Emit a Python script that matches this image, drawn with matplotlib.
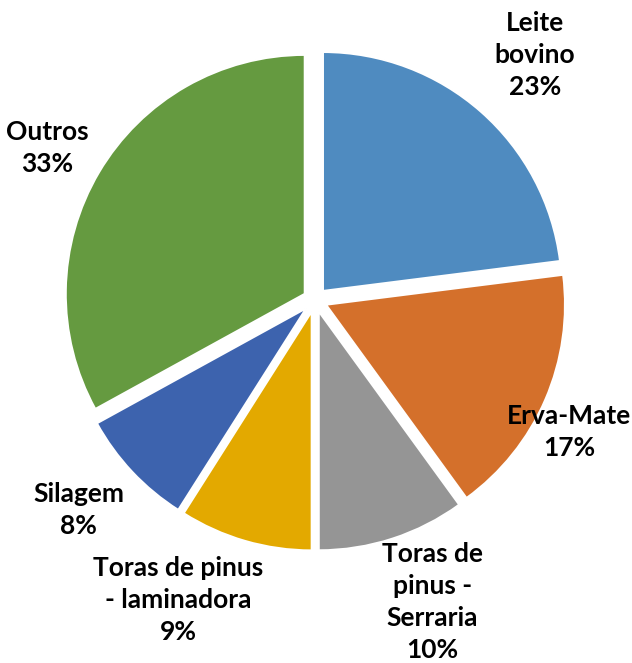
import matplotlib
matplotlib.use("Agg")
import matplotlib.pyplot as plt

# slice data, clockwise from 12 o'clock
labels = ["Leite\nbovino", "Erva-Mate", "Toras de\npinus -\nSerraria",
          "Toras de pinus\n- laminadora", "Silagem", "Outros"]
shares = [23, 17, 10, 9, 8, 33]
colors = ["#4F8BC0", "#D4702B", "#959595", "#E3A900", "#3D63AE", "#659A40"]

# where each label sits (axes data units, pie radius = 1)
label_pos = [(0.92, 1.025), (1.062, -0.552), (0.49, -1.265),
             (-0.573, -1.255), (-0.99, -0.879), (-1.121, 0.636)]

fig = plt.figure(figsize=(6.32, 6.63), dpi=100)
ax = fig.add_axes([0, 0, 1, 1])

wedges, _ = ax.pie(shares, colors=colors, startangle=90, counterclock=False,
                   explode=[0.05] * len(shares), radius=1,
                   wedgeprops=dict(edgecolor="white", linewidth=1.5))

for lab, val, (x, y) in zip(labels, shares, label_pos):
    ax.text(x, y, f"{lab}\n{val}%", ha="center", va="center",
            fontsize=19, fontweight="bold", family="Lato",
            linespacing=1.4, color="black")

ax.set_xlim(-1.318, 1.326)
ax.set_ylim(-1.519, 1.255)
ax.set_aspect("equal")
ax.axis("off")

fig.savefig("out.png", dpi=100)
